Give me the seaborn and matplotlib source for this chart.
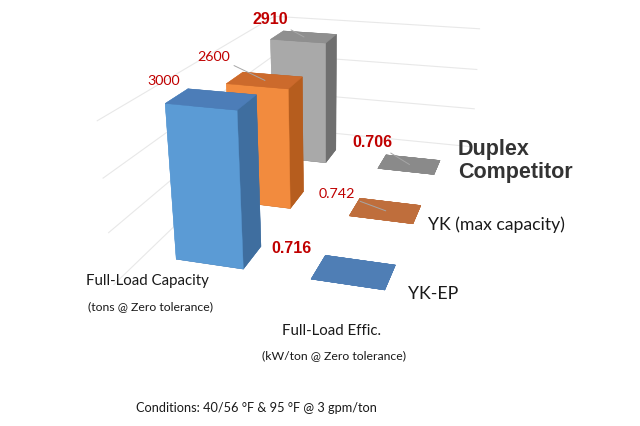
import numpy as np
import matplotlib
matplotlib.use("Agg")
import matplotlib.pyplot as plt
import seaborn as sns
from mpl_toolkits.mplot3d import proj3d

# data
metrics = ["Full-Load Capacity", "Full-Load Effic."]
metric_units = ["(tons @ Zero tolerance)", "(kW/ton @ Zero tolerance)"]
chillers = ["YK-EP", "YK (max capacity)", "Duplex\nCompetitor"]
capacity_tons = [3000, 2600, 2910]
effic_kw_per_ton = [0.716, 0.742, 0.706]
note = "Conditions: 40/56 \u00b0F & 95 \u00b0F @ 3 gpm/ton"

# faces: bottom, top, front, back, left, right
tall_faces = [
    ["#3d6fa6", "#4c7db8", "#5b9bd5", "#3d6fa6", "#5b9bd5", "#3f6e9f"],
    ["#b65d1e", "#cc6a2c", "#f28b3e", "#b65d1e", "#f28b3e", "#b65d1e"],
    ["#6f6f6f", "#8f8f8f", "#a9a9a9", "#6f6f6f", "#a9a9a9", "#6f6f6f"],
]
flat_colors = ["#4f7eb5", "#bf6e3c", "#8a8a8a"]

NARROW = ["Lato", "DejaVu Sans"]
ARIAL = ["Liberation Sans", "DejaVu Sans"]
RED = "#c00000"
INK = "#1a1a1a"

sns.set_theme(style="white")
plt.rcParams["grid.color"] = "#e8e8e8"
plt.rcParams["grid.linewidth"] = 0.8

fig = plt.figure(figsize=(6.4, 4.27), dpi=100)
# camera fitted to the reference's excel 3d view
ax = fig.add_axes([-0.0003, 0.1639, 1.0, 1.0], projection="3d")
ax.set_proj_type("persp", focal_length=0.3542)
ax.view_init(elev=20.13, azim=-73.84)

bar_w, bar_d = 0.509, 0.340
xs, ys, dzs, cols = [], [], [], []
for i, v in enumerate(capacity_tons):
    xs.append(0 - bar_w / 2)
    ys.append(i - bar_d / 2)
    dzs.append(v)
    cols += tall_faces[i]
for i, v in enumerate(effic_kw_per_ton):
    xs.append(1 - bar_w / 2)
    ys.append(i - bar_d / 2)
    dzs.append(v)
    cols += [flat_colors[i]] * 6
ax.bar3d(xs, ys, np.zeros(len(xs)), bar_w, bar_d, dzs, color=cols,
         edgecolor=cols, linewidth=0.3, shade=False)

ax.set_xlim(-0.5, 1.5)
ax.set_ylim(-0.6, 2.6)
ax.set_zlim(0, 3000)
ax.set_box_aspect((1.0, 1.6398, 0.5790), zoom=1.1509)
ax.set_xticks([])
ax.set_yticks([])
ax.set_zticks([0, 1000, 2000, 3000])
ax.set_zticklabels([])
ax.tick_params(axis="z", colors=(0, 0, 0, 0))
for axis in (ax.xaxis, ax.yaxis, ax.zaxis):
    axis.set_pane_color((1, 1, 1, 0))
    axis.line.set_visible(False)

fig.canvas.draw()
M = ax.get_proj()


def screen(x, y, z):
    px, py, _ = proj3d.proj_transform(x, y, z, M)
    return ax.transData.transform((px, py))


def top_centre(x, i, v):
    return np.mean([screen(x + sx * bar_w / 2, i + sy * bar_d / 2, v)
                    for sx in (-1, 1) for sy in (-1, 1)], axis=0)


def label(text, anchor, off, font, size, bold, color, lead=False, ha="center"):
    sx, sy = anchor
    ax.annotate(text, xy=(sx, sy), xycoords="figure pixels",
                xytext=(sx + off[0], sy + off[1]), textcoords="figure pixels",
                ha=ha, va="center", fontsize=size, family=font, color=color,
                fontweight="bold" if bold else "normal", annotation_clip=False,
                linespacing=1.15,
                arrowprops=dict(arrowstyle="-", color="#a6a6a6", lw=0.7,
                                shrinkA=1, shrinkB=0) if lead else None)


cap_off = [(-48, 19.5), (-51.5, 24.75), (-34, 18.5)]
cap_style = [(NARROW, 10.3, False, False), (NARROW, 10.3, False, True), (ARIAL, 11.5, True, True)]
for i, v in enumerate(capacity_tons):
    f, s, b, lead = cap_style[i]
    label(str(v), top_centre(0, i, v), cap_off[i], f, s, b, RED, lead)

eff_off = [(-63, 25), (-48.5, 18), (-37.5, 23)]
eff_style = [(ARIAL, 11.5, True, False), (NARROW, 10.3, False, True), (ARIAL, 11.5, True, True)]
name_off = [(54, -21), (42, -13), (48.5, 4.5)]
name_style = [(NARROW, 12.7, False, INK), (NARROW, 12.7, False, INK), (ARIAL, 15.5, True, "#333333")]
for i, v in enumerate(effic_kw_per_ton):
    anchor = top_centre(1, i, v)
    f, s, b, lead = eff_style[i]
    label(f"{v:.3f}", anchor, eff_off[i], f, s, b, RED, lead)
    f, s, b, c = name_style[i]
    label(chillers[i], anchor, name_off[i], f, s, b, c, ha="left")

cat_pos = [(147, 281, 150, 307), (332, 331, 334, 356)]
for (mx, my, ux, uy), m, u in zip(cat_pos, metrics, metric_units):
    fig.text(mx / 640, 1 - my / 427, m, ha="center", va="center",
             family=NARROW, fontsize=10.8, color=INK)
    fig.text(ux / 640, 1 - uy / 427, u, ha="center", va="center",
             family=NARROW, fontsize=8.8, color=INK)

fig.text(256 / 640, 1 - 408 / 427, note, ha="center", va="center",
         family=NARROW, fontsize=9.2, color=INK)

fig.savefig("out.png", dpi=100, facecolor="white")
